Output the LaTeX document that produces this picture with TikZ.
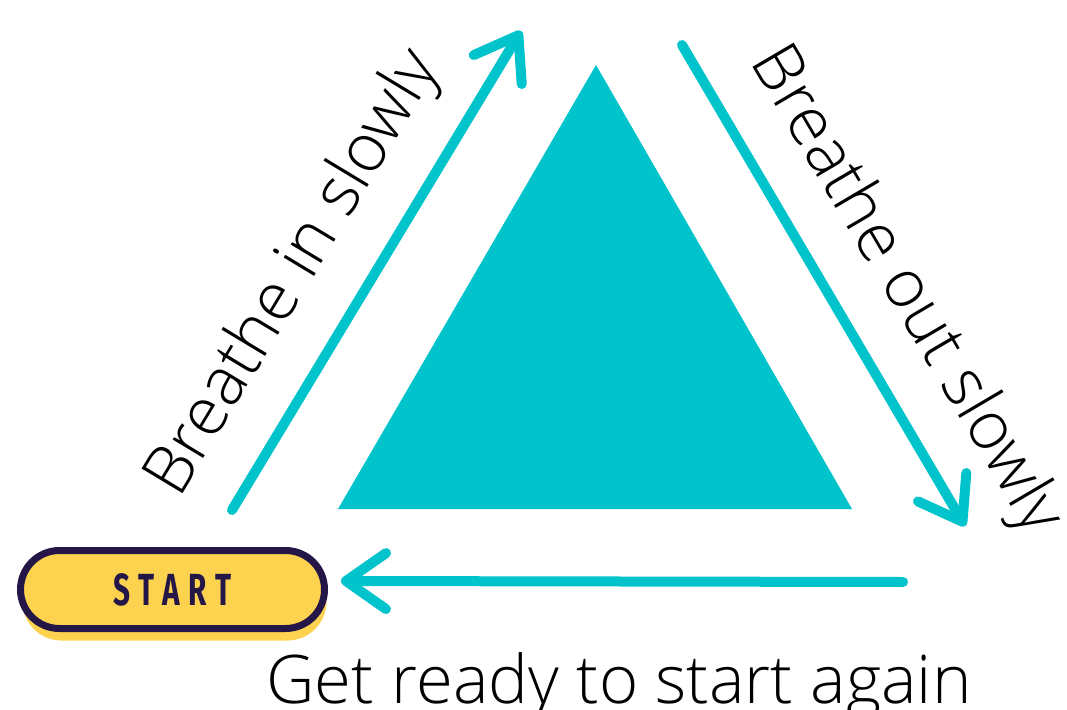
\documentclass[tikz,border=0pt]{standalone}
\usepackage{fontspec}
\setmainfont{Open Sans}[UprightFont={* Light}]
\newfontfamily\btnfont{Fira Sans}[UprightFont={* Bold}, FakeStretch=0.66, LetterSpace=20]
\usetikzlibrary{arrows.meta, shadows}

\definecolor{tealc}{HTML}{00C3CB}
\definecolor{btnyellow}{HTML}{FDD24F}
\definecolor{btnnavy}{HTML}{241748}

\tikzset{
	flow/.style = {draw = tealc, line width = 10bp, line cap = round,
		-{Straight Barb[length = 40bp, width = 56bp, line cap = round, line join = round]}},
	phase/.style = {font = \fontsize{67bp}{78bp}\selectfont, inner sep = 0pt}
}

\begin{document}
\begin{tikzpicture}[x = 1bp, y = -1bp]
	\useasboundingbox (0,0) rectangle (1067,710);

	% the triangle in the middle
	\fill [tealc] (596,65) -- (852,509) -- (338,509) -- cycle;

	% start button
	\node (start) [draw = btnnavy, line width = 7bp, fill = btnyellow,
		rounded corners = 39bp, minimum width = 304bp, minimum height = 78bp,
		drop shadow = {fill = btnyellow, opacity = 1, shadow xshift = 2bp, shadow yshift = -12bp}]
		at (172.5,589.5) {};
	\node (go) at (start.center) [text = btnnavy, font = \btnfont\fontsize{45bp}{50bp}\selectfont] {START};

	% three sides of one breath
	\coordinate (inA) at (232,510);
	\coordinate (inB) at (521,31);
	\coordinate (outA) at (682,45);
	\coordinate (outB) at (965,526);
	\coordinate (backA) at (903,582);
	\coordinate (backB) at (341,581);

	\draw [flow] (inA) -- (inB);
	\draw [flow] (outA) -- (outB);
	\draw [flow] (backA) -- (backB);

	\node (inhale) [phase, rotate = 58.9] at (295,274) {Breathe in slowly};
	\node (exhale) [phase, rotate = -59.5] at (905,291) {Breathe out slowly};
	\node (again) [phase, anchor = base] at (619,703) {Get ready to start again};
\end{tikzpicture}
\end{document}
